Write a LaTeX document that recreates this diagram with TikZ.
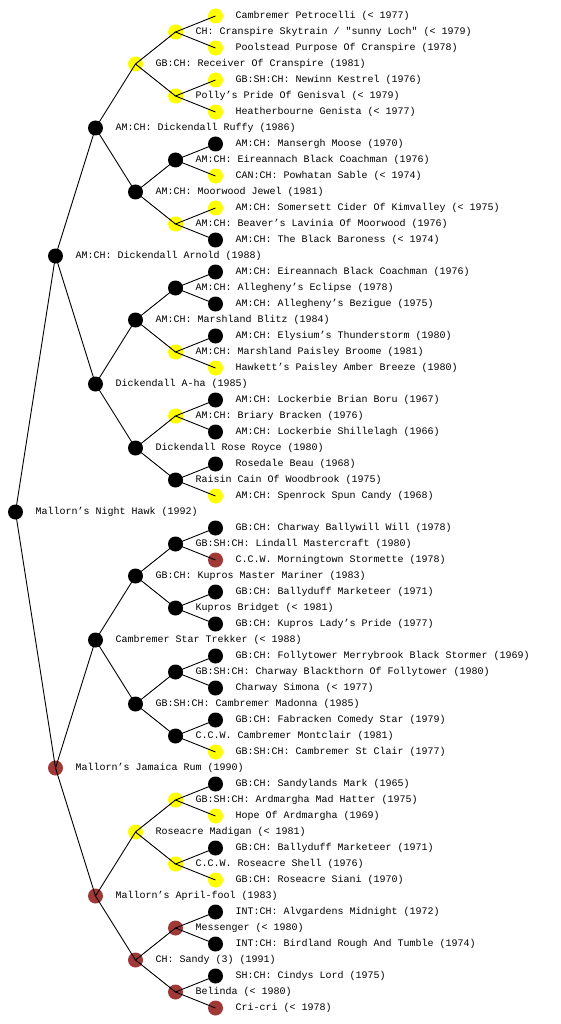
\documentclass[tikz,border=0pt]{standalone}
\usepackage{fontspec}
\setmonofont{Liberation Mono}
\definecolor{dogred}{RGB}{160,56,56}
\definecolor{dogyel}{RGB}{255,255,0}
\tikzset{
  dot/.style={circle, minimum size=15pt, inner sep=0pt},
  bk/.style={dot, fill=black},
  yl/.style={dot, fill=dogyel},
  rd/.style={dot, fill=dogred},
  lbl/.style={anchor=west, inner sep=0pt, font=\ttfamily\fontsize{10}{12}\selectfont},
  edge/.style={line width=0.9pt, black}
}
\begin{document}
\begin{tikzpicture}[x=1pt,y=-1pt]
\useasboundingbox (0,0) rectangle (560,1024);
% level x: 15.5 55.5 95.5 135.5 175.5 215.5
\node[yl] (n0) at (215.5,16) {};   \node[lbl] (t0) at (235.5,16) {Cambremer Petrocelli (< 1977)};
\node[yl] (n1) at (175.5,32) {};   \node[lbl] (t1) at (195.5,32) {CH: Cranspire Skytrain / "sunny Loch" (< 1979)};
\node[yl] (n2) at (215.5,48) {};   \node[lbl] (t2) at (235.5,48) {Poolstead Purpose Of Cranspire (1978)};
\node[yl] (n3) at (135.5,64) {};   \node[lbl] (t3) at (155.5,64) {GB:CH: Receiver Of Cranspire (1981)};
\node[yl] (n4) at (215.5,80) {};   \node[lbl] (t4) at (235.5,80) {GB:SH:CH: Newinn Kestrel (1976)};
\node[yl] (n5) at (175.5,96) {};   \node[lbl] (t5) at (195.5,96) {Polly’s Pride Of Genisval (< 1979)};
\node[yl] (n6) at (215.5,112) {};  \node[lbl] (t6) at (235.5,112) {Heatherbourne Genista (< 1977)};
\node[bk] (n7) at (95.5,128) {};   \node[lbl] (t7) at (115.5,128) {AM:CH: Dickendall Ruffy (1986)};
\node[bk] (n8) at (215.5,144) {};  \node[lbl] (t8) at (235.5,144) {AM:CH: Mansergh Moose (1970)};
\node[bk] (n9) at (175.5,160) {};  \node[lbl] (t9) at (195.5,160) {AM:CH: Eireannach Black Coachman (1976)};
\node[yl] (n10) at (215.5,176) {}; \node[lbl] (t10) at (235.5,176) {CAN:CH: Powhatan Sable (< 1974)};
\node[bk] (n11) at (135.5,192) {}; \node[lbl] (t11) at (155.5,192) {AM:CH: Moorwood Jewel (1981)};
\node[yl] (n12) at (215.5,208) {}; \node[lbl] (t12) at (235.5,208) {AM:CH: Somersett Cider Of Kimvalley (< 1975)};
\node[yl] (n13) at (175.5,224) {}; \node[lbl] (t13) at (195.5,224) {AM:CH: Beaver’s Lavinia Of Moorwood (1976)};
\node[bk] (n14) at (215.5,240) {}; \node[lbl] (t14) at (235.5,240) {AM:CH: The Black Baroness (< 1974)};
\node[bk] (n15) at (55.5,256) {};  \node[lbl] (t15) at (75.5,256) {AM:CH: Dickendall Arnold (1988)};
\node[bk] (n16) at (215.5,272) {}; \node[lbl] (t16) at (235.5,272) {AM:CH: Eireannach Black Coachman (1976)};
\node[bk] (n17) at (175.5,288) {}; \node[lbl] (t17) at (195.5,288) {AM:CH: Allegheny’s Eclipse (1978)};
\node[bk] (n18) at (215.5,304) {}; \node[lbl] (t18) at (235.5,304) {AM:CH: Allegheny’s Bezigue (1975)};
\node[bk] (n19) at (135.5,320) {}; \node[lbl] (t19) at (155.5,320) {AM:CH: Marshland Blitz (1984)};
\node[bk] (n20) at (215.5,336) {}; \node[lbl] (t20) at (235.5,336) {AM:CH: Elysium’s Thunderstorm (1980)};
\node[yl] (n21) at (175.5,352) {}; \node[lbl] (t21) at (195.5,352) {AM:CH: Marshland Paisley Broome (1981)};
\node[yl] (n22) at (215.5,368) {}; \node[lbl] (t22) at (235.5,368) {Hawkett’s Paisley Amber Breeze (1980)};
\node[bk] (n23) at (95.5,384) {};  \node[lbl] (t23) at (115.5,384) {Dickendall A-ha (1985)};
\node[bk] (n24) at (215.5,400) {}; \node[lbl] (t24) at (235.5,400) {AM:CH: Lockerbie Brian Boru (1967)};
\node[yl] (n25) at (175.5,416) {}; \node[lbl] (t25) at (195.5,416) {AM:CH: Briary Bracken (1976)};
\node[bk] (n26) at (215.5,432) {}; \node[lbl] (t26) at (235.5,432) {AM:CH: Lockerbie Shillelagh (1966)};
\node[bk] (n27) at (135.5,448) {}; \node[lbl] (t27) at (155.5,448) {Dickendall Rose Royce (1980)};
\node[bk] (n28) at (215.5,464) {}; \node[lbl] (t28) at (235.5,464) {Rosedale Beau (1968)};
\node[bk] (n29) at (175.5,480) {}; \node[lbl] (t29) at (195.5,480) {Raisin Cain Of Woodbrook (1975)};
\node[yl] (n30) at (215.5,496) {}; \node[lbl] (t30) at (235.5,496) {AM:CH: Spenrock Spun Candy (1968)};
\node[bk] (n31) at (15.5,512) {};  \node[lbl] (t31) at (35.5,512) {Mallorn’s Night Hawk (1992)};
\node[bk] (n32) at (215.5,528) {}; \node[lbl] (t32) at (235.5,528) {GB:CH: Charway Ballywill Will (1978)};
\node[bk] (n33) at (175.5,544) {}; \node[lbl] (t33) at (195.5,544) {GB:SH:CH: Lindall Mastercraft (1980)};
\node[rd] (n34) at (215.5,560) {}; \node[lbl] (t34) at (235.5,560) {C.C.W. Morningtown Stormette (1978)};
\node[bk] (n35) at (135.5,576) {}; \node[lbl] (t35) at (155.5,576) {GB:CH: Kupros Master Mariner (1983)};
\node[bk] (n36) at (215.5,592) {}; \node[lbl] (t36) at (235.5,592) {GB:CH: Ballyduff Marketeer (1971)};
\node[bk] (n37) at (175.5,608) {}; \node[lbl] (t37) at (195.5,608) {Kupros Bridget (< 1981)};
\node[bk] (n38) at (215.5,624) {}; \node[lbl] (t38) at (235.5,624) {GB:CH: Kupros Lady’s Pride (1977)};
\node[bk] (n39) at (95.5,640) {};  \node[lbl] (t39) at (115.5,640) {Cambremer Star Trekker (< 1988)};
\node[bk] (n40) at (215.5,656) {}; \node[lbl] (t40) at (235.5,656) {GB:CH: Follytower Merrybrook Black Stormer (1969)};
\node[bk] (n41) at (175.5,672) {}; \node[lbl] (t41) at (195.5,672) {GB:SH:CH: Charway Blackthorn Of Follytower (1980)};
\node[bk] (n42) at (215.5,688) {}; \node[lbl] (t42) at (235.5,688) {Charway Simona (< 1977)};
\node[bk] (n43) at (135.5,704) {}; \node[lbl] (t43) at (155.5,704) {GB:SH:CH: Cambremer Madonna (1985)};
\node[bk] (n44) at (215.5,720) {}; \node[lbl] (t44) at (235.5,720) {GB:CH: Fabracken Comedy Star (1979)};
\node[bk] (n45) at (175.5,736) {}; \node[lbl] (t45) at (195.5,736) {C.C.W. Cambremer Montclair (1981)};
\node[yl] (n46) at (215.5,752) {}; \node[lbl] (t46) at (235.5,752) {GB:SH:CH: Cambremer St Clair (1977)};
\node[rd] (n47) at (55.5,768) {};  \node[lbl] (t47) at (75.5,768) {Mallorn’s Jamaica Rum (1990)};
\node[bk] (n48) at (215.5,784) {}; \node[lbl] (t48) at (235.5,784) {GB:CH: Sandylands Mark (1965)};
\node[yl] (n49) at (175.5,800) {}; \node[lbl] (t49) at (195.5,800) {GB:SH:CH: Ardmargha Mad Hatter (1975)};
\node[yl] (n50) at (215.5,816) {}; \node[lbl] (t50) at (235.5,816) {Hope Of Ardmargha (1969)};
\node[yl] (n51) at (135.5,832) {}; \node[lbl] (t51) at (155.5,832) {Roseacre Madigan (< 1981)};
\node[bk] (n52) at (215.5,848) {}; \node[lbl] (t52) at (235.5,848) {GB:CH: Ballyduff Marketeer (1971)};
\node[yl] (n53) at (175.5,864) {}; \node[lbl] (t53) at (195.5,864) {C.C.W. Roseacre Shell (1976)};
\node[yl] (n54) at (215.5,880) {}; \node[lbl] (t54) at (235.5,880) {GB:CH: Roseacre Siani (1970)};
\node[rd] (n55) at (95.5,896) {};  \node[lbl] (t55) at (115.5,896) {Mallorn’s April-fool (1983)};
\node[bk] (n56) at (215.5,912) {}; \node[lbl] (t56) at (235.5,912) {INT:CH: Alvgardens Midnight (1972)};
\node[rd] (n57) at (175.5,928) {}; \node[lbl] (t57) at (195.5,928) {Messenger (< 1980)};
\node[bk] (n58) at (215.5,944) {}; \node[lbl] (t58) at (235.5,944) {INT:CH: Birdland Rough And Tumble (1974)};
\node[rd] (n59) at (135.5,960) {}; \node[lbl] (t59) at (155.5,960) {CH: Sandy (3) (1991)};
\node[bk] (n60) at (215.5,976) {}; \node[lbl] (t60) at (235.5,976) {SH:CH: Cindys Lord (1975)};
\node[rd] (n61) at (175.5,992) {}; \node[lbl] (t61) at (195.5,992) {Belinda (< 1980)};
\node[rd] (n62) at (215.5,1008) {};\node[lbl] (t62) at (235.5,1008) {Cri-cri (< 1978)};
% connectors (drawn over the dots, centre to centre)
\foreach \p/\d in {31/16,15/8,47/8,7/4,23/4,39/4,55/4,3/2,11/2,19/2,27/2,35/2,43/2,51/2,59/2,1/1,5/1,9/1,13/1,17/1,21/1,25/1,29/1,33/1,37/1,41/1,45/1,49/1,53/1,57/1,61/1}{
  \pgfmathtruncatemacro\ca{\p-\d}
  \pgfmathtruncatemacro\cb{\p+\d}
  \draw[edge] (n\ca.center) -- (n\p.center) -- (n\cb.center);
}
\end{tikzpicture}
\end{document}
